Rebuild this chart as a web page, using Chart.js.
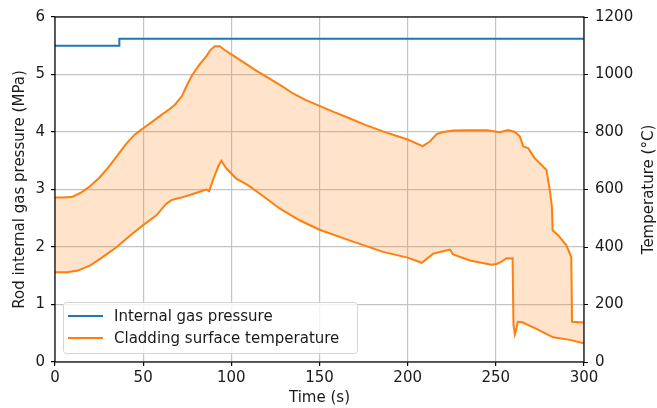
<!DOCTYPE html>
<html>
<head>
<meta charset="utf-8">
<script src="https://cdn.jsdelivr.net/npm/chart.js@4/dist/chart.umd.min.js"></script>
<style>
  html, body { margin: 0; padding: 0; background: #fff; }
  canvas { display: block; }
</style>
</head>
<body>
<canvas id="rod-chart" width="657" height="408"></canvas>
<script>
// rod internal gas pressure (MPa), held constant with one step
const pressureTime = [0, 36.5, 300];
const pressureValue = [5.5, 5.62, 5.62];

// cladding surface temperature, upper bound (°C)
const upperTime = [0, 5, 10, 15, 20, 25, 30, 35, 40, 45, 50, 55, 60, 65, 68, 70, 72, 75, 78, 82, 86, 88,
  90.6, 93.4, 96, 100, 106.6, 113, 120, 128, 135, 142, 150, 158, 167, 176, 186, 193, 200, 208.5,
  212.6, 216.4, 220, 226, 235, 245, 252.3, 257, 260.8, 263.6, 265.5, 268.3, 272, 275.8, 278.7,
  280.6, 281.8, 282.2, 285.3, 290, 292.8, 293.2, 300];
const upperTemp = [572, 572, 575, 590, 612, 640, 675, 715, 756, 790, 813, 835, 858, 880, 895, 910, 925, 965, 1000, 1035, 1065, 1084,
  1098, 1098, 1086, 1070, 1044, 1018, 992, 962, 934, 912, 891, 870, 848, 825, 802, 788, 774, 751,
  767, 793, 800, 805, 806, 806, 799, 807, 800, 785, 750, 744, 709, 686, 668,
  598, 540, 458, 441, 406, 365, 140, 137];

// cladding surface temperature, lower bound (°C)
const lowerTime = [0, 7, 13, 20, 27, 35, 44, 50, 57.5, 63, 66, 71, 76, 82, 85.8, 87.4, 89.6, 92.5, 94.3,
  97.2, 102.8, 109.4, 116, 127.4, 138.7, 150, 167, 186, 200, 208, 214.5, 220, 224, 225.8, 235.3,
  247.5, 250.4, 253, 256, 259.5, 260, 260.8, 261.8, 262.5, 265, 273, 282.5, 292, 300];
const lowerTemp = [312, 312, 318, 336, 365, 400, 447, 476, 510, 550, 563, 571, 580, 592, 600, 594, 633, 679, 700,
  673, 638, 615, 586, 534, 493, 460, 423, 383, 363, 345, 377, 385, 391, 374, 353,
  338, 341, 348, 361, 360, 130, 96, 120, 140, 138, 115, 86, 77, 65];

const timeTicks = [0, 50, 100, 150, 200, 250, 300];

const FONT = 'DejaVu Sans';
const BLUE = '#1f77b4';
const ORANGE = '#ff7f0e';

function toPoints(xs, ys) {
  return xs.map(function (x, i) { return { x: x, y: ys[i] }; });
}

function plainNumber(value) {
  return String(value);
}

// box around the plot area, plus the right-hand title read bottom to top
const framePlugin = {
  id: 'frame',
  afterDatasetsDraw(chart) {
    const a = chart.chartArea;
    const ctx = chart.ctx;
    ctx.save();
    ctx.strokeStyle = '#000';
    ctx.lineWidth = 1.2;
    ctx.strokeRect(a.left, a.top, a.right - a.left, a.bottom - a.top);
    ctx.restore();
  },
  afterDraw(chart) {
    const a = chart.chartArea;
    const ctx = chart.ctx;
    ctx.save();
    ctx.translate(chart.width - 8, (a.top + a.bottom) / 2);
    ctx.rotate(-Math.PI / 2);
    ctx.font = '15px "' + FONT + '"';
    ctx.fillStyle = '#1a1a1a';
    ctx.textAlign = 'center';
    ctx.textBaseline = 'middle';
    ctx.fillText('Temperature (°C)', 0, 0);
    ctx.restore();
  }
};

// legend box in the lower left corner of the plot
const legendPlugin = {
  id: 'boxLegend',
  afterDraw(chart) {
    const a = chart.chartArea;
    const ctx = chart.ctx;
    const items = chart.data.datasets.filter(function (d) { return d.inLegend; });
    const x = a.left + 8, y = a.bottom - 60, w = 294, h = 51;
    ctx.save();
    ctx.beginPath();
    ctx.roundRect(x + 0.5, y + 0.5, w, h, 3);
    ctx.fillStyle = 'rgba(255,255,255,0.8)';
    ctx.fill();
    ctx.strokeStyle = '#d6d6d6';
    ctx.lineWidth = 1;
    ctx.stroke();
    ctx.font = '15px "' + FONT + '"';
    ctx.textBaseline = 'middle';
    items.forEach(function (d, i) {
      const cy = y + 14 + i * 22;
      ctx.strokeStyle = d.borderColor;
      ctx.lineWidth = 2;
      ctx.beginPath();
      ctx.moveTo(x + 5, cy);
      ctx.lineTo(x + 40, cy);
      ctx.stroke();
      ctx.fillStyle = '#1a1a1a';
      ctx.fillText(d.label, x + 51, cy + 1);
    });
    ctx.restore();
  }
};

new Chart(document.getElementById('rod-chart'), {
  type: 'line',
  data: {
    datasets: [
      {
        label: 'Internal gas pressure',
        inLegend: true,
        data: toPoints(pressureTime, pressureValue),
        yAxisID: 'y',
        borderColor: BLUE,
        borderWidth: 2,
        stepped: 'before',
        pointRadius: 0,
        fill: false
      },
      {
        label: 'Cladding surface temperature',
        inLegend: true,
        data: toPoints(upperTime, upperTemp),
        yAxisID: 'y1',
        borderColor: ORANGE,
        borderWidth: 2,
        pointRadius: 0,
        tension: 0,
        fill: '+1',
        backgroundColor: 'rgba(255,127,14,0.22)'
      },
      {
        label: 'Cladding surface temperature (min)',
        inLegend: false,
        data: toPoints(lowerTime, lowerTemp),
        yAxisID: 'y1',
        borderColor: ORANGE,
        borderWidth: 2,
        pointRadius: 0,
        tension: 0,
        fill: false
      }
    ]
  },
  options: {
    responsive: false,
    animation: false,
    devicePixelRatio: 1,
    layout: { padding: { top: 17, left: 0, right: 0, bottom: 0 } },
    plugins: {
      legend: { display: false },
      tooltip: { enabled: false }
    },
    scales: {
      x: {
        type: 'linear',
        min: 0,
        max: 300,
        afterBuildTicks(scale) {
          scale.ticks = timeTicks.map(function (v) { return { value: v }; });
        },
        afterFit(scale) { scale.height = 46; },
        ticks: { font: { family: FONT, size: 15 }, color: '#1a1a1a', padding: 3, maxRotation: 0, callback: plainNumber },
        grid: { color: '#c4c4c4', lineWidth: 1.2, tickColor: '#000', tickLength: 4 },
        border: { display: false },
        title: { display: true, text: 'Time (s)', font: { family: FONT, size: 15 }, color: '#1a1a1a', padding: { top: 0, bottom: 1 } }
      },
      y: {
        position: 'left',
        min: 0,
        max: 6,
        ticks: { stepSize: 1, font: { family: FONT, size: 15 }, color: '#1a1a1a', padding: 6, callback: plainNumber },
        afterFit(scale) { scale.width = 55; },
        grid: { color: '#c4c4c4', lineWidth: 1.2, tickColor: '#000', tickLength: 4 },
        border: { display: false },
        title: { display: true, text: 'Rod internal gas pressure (MPa)', font: { family: FONT, size: 15 }, color: '#1a1a1a', padding: { top: 11, bottom: 0 } }
      },
      y1: {
        position: 'right',
        min: 0,
        max: 1200,
        ticks: { stepSize: 200, font: { family: FONT, size: 15 }, color: '#1a1a1a', padding: 7, callback: plainNumber },
        afterFit(scale) { scale.width = 73; },
        grid: { drawOnChartArea: false, tickColor: '#000', tickLength: 4 },
        border: { display: false }
      }
    }
  },
  plugins: [framePlugin, legendPlugin]
});
</script>
</body>
</html>
